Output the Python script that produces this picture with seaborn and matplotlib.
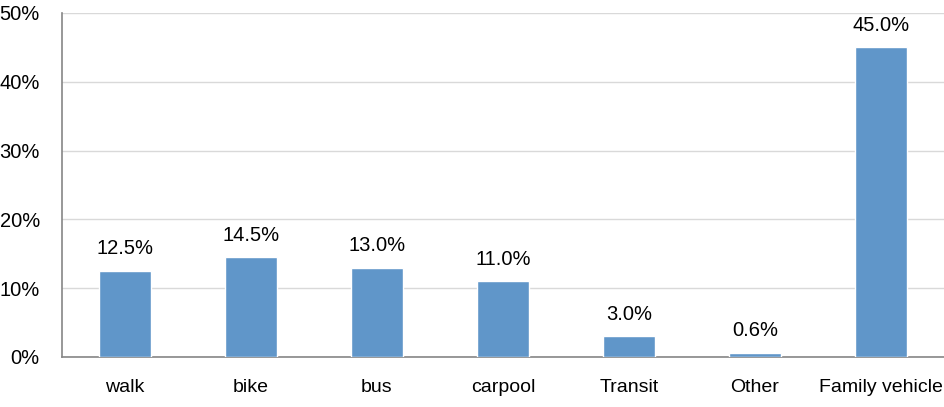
import numpy as np
import pandas as pd
import matplotlib
matplotlib.use("Agg")
import matplotlib.pyplot as plt
import seaborn as sns
from matplotlib.ticker import PercentFormatter, FixedLocator

# --- données ---
modes = ["walk", "bike", "bus", "carpool", "Transit", "Other", "Family vehicle"]
shares = [12.5, 14.5, 13.0, 11.0, 3.0, 0.6, 45.0]
yticks = [0, 10, 20, 30, 40, 50]

df = pd.DataFrame({"mode": modes, "share": shares})

sns.set_style("white")
plt.rcParams["font.family"] = ["Liberation Sans", "DejaVu Sans"]

fig = plt.figure(figsize=(9.45, 4.07), dpi=100)
ax = fig.add_axes([62 / 945, 50 / 407, 882 / 945, 344 / 407])

sns.barplot(data=df, x="mode", y="share", color="#6096c9", width=0.41,
            saturation=1, ax=ax, zorder=3)

for i, v in enumerate(shares):
    ax.annotate(f"{v:.1f}%", (i, v), xytext=(0, 9), textcoords="offset points",
                ha="center", va="bottom", fontsize=14.5, color="black")

ax.set_ylim(0, 50)
ax.set_xlim(-0.5, len(modes) - 0.5)
ax.set_yticks(yticks)
ax.yaxis.set_major_formatter(PercentFormatter(decimals=0))
ax.grid(axis="y", color="#d9d9d9", linewidth=1, zorder=0)
ax.set_axisbelow(True)

ax.xaxis.set_minor_locator(FixedLocator(np.arange(-0.5, len(modes), 1.0)))
ax.tick_params(axis="x", which="major", length=0, pad=16, labelsize=14, labelcolor="black")
ax.tick_params(axis="x", which="minor", length=6, width=1, color="#868686", direction="out")
ax.tick_params(axis="y", length=6, width=1, color="#868686", direction="out", pad=10,
               labelsize=14.5, labelcolor="black")

ax.set_xlabel("")
ax.set_ylabel("")
for s in ["top", "right"]:
    ax.spines[s].set_visible(False)
for s in ["left", "bottom"]:
    ax.spines[s].set_color("#868686")
    ax.spines[s].set_linewidth(1.2)

fig.savefig("out.png", dpi=100)
